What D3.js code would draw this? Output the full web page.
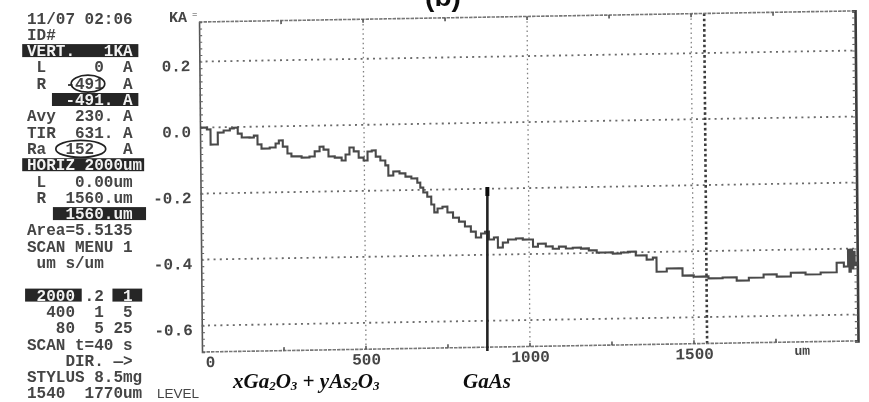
<!DOCTYPE html>
<html>
<head>
<meta charset="utf-8">
<script src="https://cdn.jsdelivr.net/npm/d3@7"></script>
<style>
  html, body { margin: 0; padding: 0; background: #fff; }
  svg { display: block; }
</style>
</head>
<body>
<svg id="chart" width="869" height="402"></svg>
<script>
// Stylus profile: scan position (µm) and height (kÅ)
const scanUm = [0, 21, 32, 44, 54, 72, 91, 103, 115, 127, 151, 164, 175, 187, 212, 230, 240, 252, 266, 278,
  309, 333, 349, 364, 376, 391, 410, 431, 443, 455, 468, 483, 498, 510, 523, 535, 549, 564, 573, 588,
  607, 625, 643, 661, 670, 679, 691, 703, 712, 722, 737, 752, 769, 787, 805, 823, 838, 854, 866, 878,
  893, 905, 920, 936, 960, 981, 1000, 1012, 1027, 1051, 1072, 1091, 1112, 1133, 1158, 1182, 1206, 1231,
  1255, 1280, 1301, 1325, 1358, 1377, 1388, 1419, 1467, 1501, 1546, 1589, 1632, 1669, 1714, 1754, 1797,
  1842, 1888, 1937, 1959, 1968, 1972, 1976, 1980, 1984, 1988, 1992, 1998];
const heightKA = [0.000, -0.006, -0.052, -0.052, -0.016, -0.010, -0.004, -0.002, -0.020, -0.032, -0.033,
  -0.027, -0.054, -0.067, -0.064, -0.052, -0.043, -0.062, -0.083, -0.092, -0.096, -0.093, -0.078, -0.064,
  -0.073, -0.094, -0.098, -0.107, -0.089, -0.068, -0.080, -0.099, -0.108, -0.081, -0.078, -0.097, -0.109,
  -0.124, -0.155, -0.143, -0.149, -0.159, -0.165, -0.178, -0.193, -0.208, -0.221, -0.245, -0.269, -0.257,
  -0.252, -0.270, -0.286, -0.298, -0.313, -0.329, -0.347, -0.335, -0.330, -0.354, -0.348, -0.379, -0.364,
  -0.355, -0.352, -0.356, -0.356, -0.378, -0.369, -0.378, -0.385, -0.379, -0.385, -0.383, -0.386, -0.392,
  -0.399, -0.399, -0.403, -0.400, -0.398, -0.410, -0.423, -0.417, -0.460, -0.451, -0.473, -0.477, -0.483,
  -0.481, -0.491, -0.483, -0.474, -0.481, -0.470, -0.476, -0.471, -0.442, -0.454, -0.454, -0.403, -0.470,
  -0.403, -0.460, -0.410, -0.450, -0.440];

const yTicks = [0.2, 0.0, -0.2, -0.4, -0.6];
const yTickLabels = ["0.2", "0.0", "-0.2", "-0.4", "-0.6"];
const xTicks = [0, 500, 1000, 1500];
const xTickLabels = ["0", "500", "1000", "1500"];
const xNotches = [250, 500, 750, 1000, 1250, 1500, 1750];
const yMinor = d3.range(-0.68, 0.3201, 0.02);
const cursorUm = 1540;
const boundaryUm = 870;
const boundaryTopKA = -0.18;
const unitUm = 1830;

// Instrument readout column
const panelLines = [
  "11/07 02:06",
  "ID#",
  "VERT.   1KA",
  " L     0  A",
  " R  -491  A",
  "    -491. A",
  "Avy  230. A",
  "TIR  631. A",
  "Ra  152   A",
  "HORIZ 2000um",
  " L   0.00um",
  " R  1560.um",
  "    1560.um",
  "Area=5.5135",
  "SCAN MENU 1",
  " um s/um",
  "",
  " 2000 .2  1",
  "  400  1  5",
  "   80  5 25",
  "SCAN t=40 s",
  "    DIR. —>",
  "STYLUS 8.5mg",
  "1540  1770um"
];
// highlighted (inverse video) spans: [row, firstCol, lastCol]
const inverseSpans = [[2, -0.5, 11.6], [5, 2.6, 11.6], [9, -0.5, 12.2], [12, 2.7, 12.4], [17, -0.2, 5.7], [17, 8.9, 12.0]];
// circled readings: [row, firstCol, lastCol]
const circledSpans = [[4, 4.6, 8.1], [8, 3.0, 8.2]];

const svg = d3.select("#chart");

const defs = svg.append("defs");
defs.append("filter").attr("id", "soft")
  .append("feGaussianBlur").attr("stdDeviation", 0.35);

const root = svg.append("g").attr("filter", "url(#soft)");

// ---- readout panel ----
const monoFont = "'Liberation Mono', 'DejaVu Sans Mono', monospace";
const ink = "#454545";
const colW = 9.6, col0 = 27;
const rowY = i => 18 + 16.3 * i;
const panel = root.append("g");

panel.selectAll("rect.inv").data(inverseSpans).join("rect")
  .attr("x", d => col0 + d[1] * colW)
  .attr("y", d => rowY(d[0]) - 6.5)
  .attr("width", d => (d[2] - d[1]) * colW)
  .attr("height", 13)
  .attr("fill", "#262626");

// split each row into plain / highlighted pieces
function rowSegments(line, r) {
  const marks = new Array(line.length).fill(false);
  inverseSpans.filter(s => s[0] === r).forEach(([, c1, c2]) => {
    const a = Math.max(0, Math.ceil(c1)), b = Math.min(line.length, Math.floor(c2) + 1);
    for (let k = a; k < b; k++) marks[k] = true;
  });
  const segs = [];
  for (let k = 0; k < line.length; k++) {
    if (segs.length && segs[segs.length - 1].inv === marks[k]) segs[segs.length - 1].text += line[k];
    else segs.push({ text: line[k], inv: marks[k] });
  }
  return segs;
}

panel.selectAll("text.row").data(panelLines).join("text")
  .attr("x", col0)
  .attr("y", (d, i) => rowY(i) + 5.5)
  .attr("xml:space", "preserve")
  .style("white-space", "pre")
  .attr("font-family", monoFont)
  .attr("font-weight", "bold")
  .attr("font-size", 16)
  .each(function (d, i) {
    d3.select(this).selectAll("tspan").data(rowSegments(d, i)).join("tspan")
      .attr("fill", s => s.inv ? "#f2f2f2" : ink)
      .text(s => s.text);
  });

panel.selectAll("ellipse").data(circledSpans).join("ellipse")
  .attr("cx", d => col0 + (d[1] + d[2]) / 2 * colW)
  .attr("cy", d => rowY(d[0]) + 0.5)
  .attr("rx", d => (d[2] - d[1]) / 2 * colW)
  .attr("ry", 8.5)
  .attr("fill", "none")
  .attr("stroke", "#222")
  .attr("stroke-width", 1.7);

panel.append("text")
  .attr("x", 157).attr("y", rowY(23) + 5)
  .attr("font-family", "'Liberation Sans', Arial, sans-serif")
  .attr("font-size", 13.5)
  .attr("fill", ink)
  .text("LEVEL");

// ---- plot ----
const x = d3.scaleLinear().domain([0, 2000]).range([202, 858]);
const y = d3.scaleLinear().domain([-0.68, 0.32]).range([352, 22]);
const X0 = x.range()[0], Y0 = y.range()[0];

const plot = root.append("g")
  .attr("transform", `translate(${X0},${Y0}) matrix(1,-0.0169,0.009,1,0,0) translate(${-X0},${-Y0})`);

// horizontal grid
plot.selectAll("line.hgrid").data(yTicks).join("line")
  .attr("x1", x(0)).attr("x2", x(2000))
  .attr("y1", d => y(d)).attr("y2", d => y(d))
  .attr("stroke", "#6a6a6a").attr("stroke-width", 1.8)
  .attr("stroke-dasharray", "2,4.2");

// vertical grid
plot.selectAll("line.vgrid").data(xTicks.slice(1)).join("line")
  .attr("x1", d => x(d)).attr("x2", d => x(d))
  .attr("y1", y(0.32)).attr("y2", y(-0.68))
  .attr("stroke", "#808080").attr("stroke-width", 1.3)
  .attr("stroke-dasharray", "1.5,3.2");

// cursor
plot.append("line")
  .attr("x1", x(cursorUm)).attr("x2", x(cursorUm))
  .attr("y1", y(0.32)).attr("y2", y(-0.68))
  .attr("stroke", "#3a3a3a").attr("stroke-width", 2.6)
  .attr("stroke-dasharray", "2.6,2.6");

// top and bottom frame (dashed with notches)
[[0.32, 1], [-0.68, -1]].forEach(([v, dir]) => {
  plot.append("line")
    .attr("x1", x(0)).attr("x2", x(2000))
    .attr("y1", y(v)).attr("y2", y(v))
    .attr("stroke", "#777").attr("stroke-width", 1.6)
    .attr("stroke-dasharray", "3.5,1");
  plot.selectAll(null).data(xNotches).join("line")
    .attr("x1", d => x(d)).attr("x2", d => x(d))
    .attr("y1", y(v)).attr("y2", y(v) + 3.5 * dir)
    .attr("stroke", "#555").attr("stroke-width", 1.6);
});

// left ruler
plot.append("g")
  .attr("transform", `translate(${x(0)},0)`)
  .call(d3.axisRight(y).tickValues(yMinor).tickSize(3).tickFormat(""))
  .call(g => g.select(".domain").attr("stroke", "#555").attr("stroke-width", 1.6))
  .call(g => g.selectAll(".tick line").attr("stroke", "#666").attr("stroke-width", 1.1));

// right ruler
plot.append("g")
  .attr("transform", `translate(${x(2000)},0)`)
  .call(d3.axisLeft(y).tickValues(yMinor).tickSize(3).tickFormat(""))
  .call(g => g.select(".domain").attr("stroke", "#3a3a3a").attr("stroke-width", 2.6))
  .call(g => g.selectAll(".tick line").attr("stroke", "#666").attr("stroke-width", 1.1));

// y labels
plot.append("g")
  .attr("transform", `translate(${x(0) - 9},0)`)
  .call(d3.axisLeft(y).tickValues(yTicks).tickSize(0).tickPadding(0)
    .tickFormat((d, i) => yTickLabels[i]))
  .call(g => g.select(".domain").remove())
  .call(g => g.selectAll("text")
    .attr("dy", "0.55em")
    .attr("font-family", monoFont).attr("font-weight", "bold")
    .attr("font-size", 16).attr("fill", ink));

// x labels
plot.append("g")
  .attr("transform", `translate(0,${Y0 + 4})`)
  .call(d3.axisBottom(x).tickValues(xTicks).tickSize(0).tickPadding(0)
    .tickFormat((d, i) => xTickLabels[i]))
  .call(g => g.select(".domain").remove())
  .call(g => g.selectAll("text")
    .attr("font-family", monoFont).attr("font-weight", "bold")
    .attr("font-size", 16).attr("fill", ink))
  .call(g => g.selectAll(".tick").filter(d => d === 0).select("text")
    .attr("text-anchor", "start").attr("dx", 3));

plot.append("text")
  .attr("x", x(unitUm)).attr("y", Y0 + 13)
  .attr("text-anchor", "middle")
  .attr("font-family", monoFont).attr("font-weight", "bold")
  .attr("font-size", 13).attr("fill", ink)
  .text("um");

// profile trace
const profile = d3.zip(scanUm, heightKA);
plot.append("path")
  .datum(profile)
  .attr("fill", "none")
  .attr("stroke", "#4a4a4a")
  .attr("stroke-width", 2.1)
  .attr("d", d3.line().x(d => x(d[0])).y(d => y(d[1])).curve(d3.curveStepAfter));

// ---- labels outside the frame ----
root.append("text")
  .attr("x", 169).attr("y", 22)
  .attr("font-family", monoFont).attr("font-weight", "bold")
  .attr("font-size", 15).attr("fill", ink)
  .text("KA");
root.append("text")
  .attr("x", 192).attr("y", 17)
  .attr("font-family", monoFont).attr("font-size", 9).attr("fill", ink)
  .text("=");

root.append("text")
  .attr("x", 443).attr("y", 6)
  .attr("text-anchor", "middle")
  .attr("font-family", "'Liberation Sans', Arial, sans-serif")
  .attr("font-weight", "bold").attr("font-size", 28).attr("fill", "#111")
  .text("(b)");

// layer boundary marker
const bx = x(boundaryUm);
root.append("line")
  .attr("x1", bx).attr("x2", bx)
  .attr("y1", y(boundaryTopKA)).attr("y2", Y0 - 1)
  .attr("stroke", "#222").attr("stroke-width", 2.6);
root.append("line")
  .attr("x1", bx).attr("x2", bx)
  .attr("y1", y(boundaryTopKA)).attr("y2", y(boundaryTopKA) + 9)
  .attr("stroke", "#111").attr("stroke-width", 4);

// layer names
const serif = "'Liberation Serif', 'Times New Roman', serif";
const oxide = root.append("text")
  .attr("x", 233).attr("y", 388)
  .attr("font-family", serif).attr("font-style", "italic").attr("font-weight", "bold")
  .attr("font-size", 21).attr("fill", "#111");
let shift = 0;
[["xGa", 0], ["2", 2], ["O", 0], ["3", 2], [" + yAs", 0], ["2", 2], ["O", 0], ["3", 2]]
  .forEach(([t, off]) => {
    oxide.append("tspan")
      .attr("font-size", off ? 13 : 21)
      .attr("dy", off - shift)
      .text(t);
    shift = off;
  });

root.append("text")
  .attr("x", 463).attr("y", 388)
  .attr("font-family", serif).attr("font-style", "italic").attr("font-weight", "bold")
  .attr("font-size", 21).attr("fill", "#111")
  .text("GaAs");
</script>
</body>
</html>
